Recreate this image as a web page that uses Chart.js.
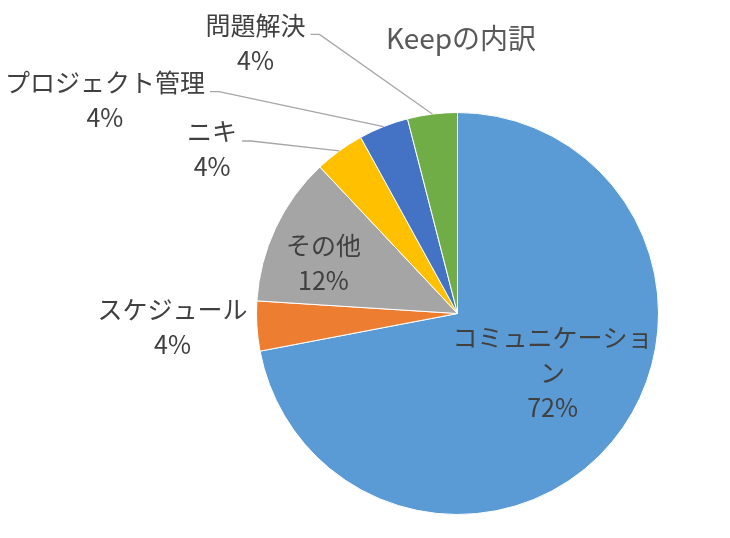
<!DOCTYPE html>
<html lang="ja">
<head>
<meta charset="utf-8">
<script src="https://cdn.jsdelivr.net/npm/chart.js@4/dist/chart.umd.min.js"></script>
<style>
  html, body { margin: 0; padding: 0; background: #fff; }
  #wrap { width: 730px; height: 538px; position: relative; }
</style>
</head>
<body>
<div id="wrap"><canvas id="grafica"></canvas></div>
<script>
// Datos del gráfico
const tituloGrafica = 'Keepの内訳';
const categorias = ['コミュニケーション', 'スケジュール', 'その他', 'ニキ', 'プロジェクト管理', '問題解決'];
const valores = [72, 4, 12, 4, 4, 4];
const colores = ['#5B9BD5', '#ED7D31', '#A5A5A5', '#FFC000', '#4472C4', '#70AD47'];

const FUENTE = '"Noto Sans CJK JP", "Noto Sans", sans-serif';

// Etiquetas estilo Excel: posición relativa al centro (en radios) y línea guía
const etiquetasPlugin = {
    id: 'etiquetas',
    afterDatasetsDraw(chart, args, opts) {
        const ctx = chart.ctx;
        const meta = chart.getDatasetMeta(0);
        const total = valores.reduce((a, b) => a + b, 0);
        ctx.save();
        ctx.font = '25px ' + FUENTE;
        ctx.textAlign = 'center';
        ctx.textBaseline = 'middle';
        meta.data.forEach((arc, i) => {
            const p = arc.getProps(['x', 'y', 'startAngle', 'endAngle', 'outerRadius'], true);
            const pos = opts.posiciones[i];
            const cx = p.x + pos.dx * p.outerRadius;
            const cy = p.y + pos.dy * p.outerRadius;
            const anchoMax = pos.ancho || 1000;

            // partir el texto si es más ancho que el máximo
            const lineas = [];
            let actual = '';
            for (const ch of categorias[i]) {
                if (ctx.measureText(actual + ch).width > anchoMax && actual) {
                    lineas.push(actual);
                    actual = ch;
                } else {
                    actual += ch;
                }
            }
            lineas.push(actual);
            lineas.push(Math.round(valores[i] / total * 100) + '%');

            ctx.fillStyle = '#404040';
            lineas.forEach((t, k) => ctx.fillText(t, cx, cy + k * opts.interlineado));

            if (pos.guia) {
                const mid = (p.startAngle + p.endAngle) / 2;
                const ex = p.x + Math.cos(mid) * p.outerRadius;
                const ey = p.y + Math.sin(mid) * p.outerRadius;
                const ancho = ctx.measureText(lineas[0]).width;
                const lx = cx + ancho / 2 + 5;
                const ly = cy + 9;
                ctx.strokeStyle = '#A6A6A6';
                ctx.lineWidth = 1.3;
                ctx.beginPath();
                ctx.moveTo(lx, ly);
                ctx.lineTo(lx + 9, ly);
                ctx.lineTo(ex, ey);
                ctx.stroke();
            }
        });

        // título
        ctx.font = '28px ' + FUENTE;
        ctx.fillStyle = '#595959';
        ctx.fillText(tituloGrafica, opts.tituloX, opts.tituloY);
        ctx.restore();
    }
};

function initGrafica() {
    const ctx = document.getElementById('grafica').getContext('2d');
    new Chart(ctx, {
        type: 'pie',
        data: {
            labels: categorias,
            datasets: [{
                data: valores,
                backgroundColor: colores,
                borderColor: '#ffffff',
                borderWidth: 1
            }]
        },
        options: {
            responsive: false,
            animation: false,
            radius: 201,
            layout: { padding: { left: 185, right: 0, top: 89, bottom: 0 } },
            plugins: {
                legend: { display: false },
                tooltip: { enabled: false },
                title: { display: false },
                etiquetas: {
                    interlineado: 35,
                    tituloX: 461,
                    tituloY: 38,
                    posiciones: [
                        { dx: 0.473, dy: 0.117, guia: false, ancho: 206 },
                        { dx: -1.418, dy: -0.022, guia: false },
                        { dx: -0.667, dy: -0.336, guia: false },
                        { dx: -1.221, dy: -0.903, guia: true },
                        { dx: -1.754, dy: -1.149, guia: true },
                        { dx: -1.005, dy: -1.433, guia: true }
                    ]
                }
            }
        },
        plugins: [etiquetasPlugin]
    });
}

document.getElementById('grafica').width = 730;
document.getElementById('grafica').height = 538;
document.addEventListener('DOMContentLoaded', initGrafica);
</script>
</body>
</html>
